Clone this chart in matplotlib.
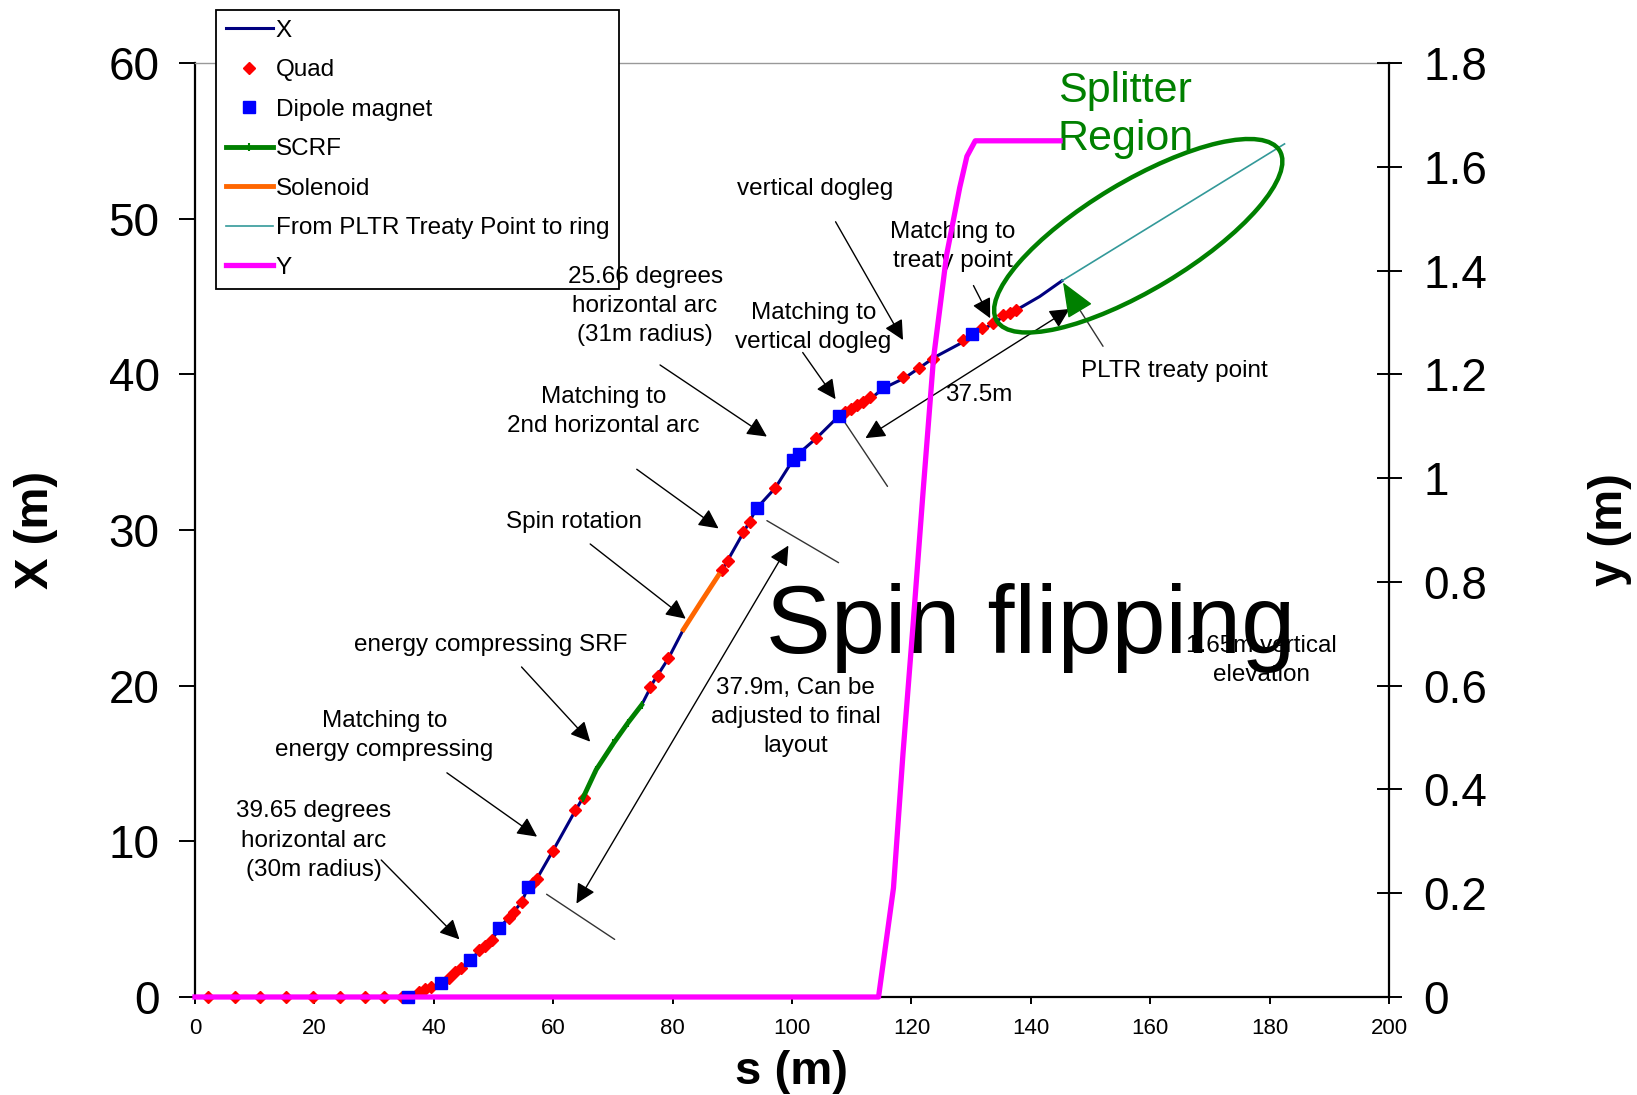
import matplotlib
matplotlib.use('Agg')
import matplotlib.pyplot as plt
import numpy as np
from matplotlib.patches import Ellipse
from matplotlib.transforms import ScaledTranslation

plt.rcParams['font.family'] = ['Liberation Sans', 'DejaVu Sans']

# horizontal position X (m) along path length s (m)
s_x = [0, 35.5, 37.6, 39.9, 41.2, 43.2, 44.9, 46.1, 48.2, 49.6, 51.0, 53.3, 54.7, 55.8,
       57.1, 60.0, 63.6, 65.0, 67.2, 70.1, 72.5, 74.8, 76.8, 79.3, 81.8, 84.8, 87.7, 88.8,
       92.4, 94.1, 97.2, 100.5, 104.1, 107.8, 110.8, 113.4, 115.3, 118.8, 121.3, 123.9,
       128.3, 130.4, 133.5, 136.1, 137.9, 141.5, 145.2]
x_x = [0, 0, 0.37, 0.65, 0.9, 1.44, 1.98, 2.37, 3.17, 3.6, 4.42, 5.43, 6.08, 7.05,
       7.48, 9.42, 11.9, 12.8, 14.6, 16.3, 17.6, 18.75, 20.25, 21.75, 23.6, 25.4, 27.1, 27.75,
       30.2, 31.4, 32.7, 34.7, 35.9, 37.3, 37.9, 38.5, 39.1, 39.75, 40.4, 41.1,
       42.0, 42.6, 43.2, 43.9, 44.2, 45.0, 46.0]

# quadrupoles
s_quad = [2.2, 6.7, 10.9, 15.3, 19.8, 24.3, 28.4, 31.6, 34.6,
          37.5, 38.6, 39.6, 42.6, 43.6, 44.5, 47.6, 48.5, 49.7, 52.6, 53.4, 54.8, 56.7, 57.3,
          60.0, 63.7, 65.1, 76.2, 77.6, 79.3, 88.3, 89.3, 91.8, 93.0, 97.2, 104.1,
          108.9, 109.9, 110.9, 111.9, 113.1, 118.6, 121.2, 123.7, 128.7, 131.8, 133.7,
          135.4, 136.5, 137.6]
x_quad = [0, 0, 0, 0, 0, 0, 0, 0, 0,
          0.35, 0.5, 0.62, 1.25, 1.6, 1.85, 3.0, 3.25, 3.65, 5.1, 5.45, 6.1, 7.35, 7.6,
          9.4, 12.0, 12.8, 19.9, 20.6, 21.75, 27.45, 28.0, 29.9, 30.5, 32.7, 35.9,
          37.6, 37.8, 38.0, 38.2, 38.55, 39.8, 40.4, 41.0, 42.2, 42.95, 43.3,
          43.8, 43.95, 44.1]

# dipole magnets
s_dip = [35.6, 41.2, 46.1, 51.0, 55.8, 94.1, 100.2, 101.1, 107.8, 115.3, 130.1]
x_dip = [0, 0.9, 2.37, 4.42, 7.05, 31.4, 34.5, 34.9, 37.3, 39.2, 42.6]

# SCRF, solenoid, PLTR -> ring sections
s_scrf = [65.0, 67.2, 70.1, 72.5, 74.8]
x_scrf = [12.8, 14.6, 16.3, 17.6, 18.75]
s_sol = [81.8, 84.8, 87.7]
x_sol = [23.6, 25.4, 27.1]
s_pltr = [145.2, 182.5]
x_pltr = [46.0, 54.8]

# vertical position y (m)
s_y = [0, 114.5, 117.0, 118.6, 120.3, 122.0, 123.7, 125.9, 128.1, 129.3, 130.7, 144.9]
y_y = [0, 0, 0.21, 0.47, 0.72, 0.98, 1.23, 1.43, 1.56, 1.62, 1.65, 1.65]

fig = plt.figure(figsize=(16.37, 10.95), dpi=100)
ax = fig.add_axes([0.1191, 0.0895, 0.7294, 0.853])
ax2 = ax.twinx()

l_x, = ax.plot(s_x, x_x, color='#000080', lw=2.2, label='X', clip_on=False, zorder=3)
l_q, = ax.plot(s_quad, x_quad, 'D', color='red', ms=6.5, ls='none', label='Quad',
               clip_on=False, zorder=4)
l_d, = ax.plot(s_dip, x_dip, 's', color='blue', ms=8, ls='none', label='Dipole magnet',
               clip_on=False, zorder=5)
l_rf, = ax.plot(s_scrf, x_scrf, color='green', lw=3.5, marker='|', ms=6, mew=1.5,
                label='SCRF', zorder=4)
l_so, = ax.plot(s_sol, x_sol, color='#FF6600', lw=3.5, label='Solenoid', zorder=4)
l_pl, = ax.plot(s_pltr, x_pltr, color='#339999', lw=1.2, label='From PLTR Treaty Point to ring',
                zorder=3)
l_y, = ax2.plot(s_y, y_y, color='#FF00FF', lw=3.8, label='Y', clip_on=False)

ax.set_xlim(0, 200)
ax.set_ylim(0, 60)
ax2.set_ylim(0, 1.8)
ax.set_xticks(np.arange(0, 201, 20))
ax.set_yticks(np.arange(0, 61, 10))
ax2.set_yticks(np.arange(0, 1.81, 0.2))
ax2.yaxis.set_major_formatter(plt.FuncFormatter(lambda v, p: '%g' % round(v, 1)))

ax.tick_params(axis='x', direction='out', length=5, width=1.4, labelsize=16, pad=10)
ax.tick_params(axis='y', direction='out', length=11.5, width=1.4, labelsize=33, pad=14)
ax2.tick_params(axis='y', direction='inout', length=18, width=1.4, labelsize=33, pad=16)

for sp in ['left', 'bottom']:
    ax.spines[sp].set_linewidth(1.6)
ax.spines['right'].set_visible(False)
ax.spines['top'].set_color('#999999')
ax.spines['top'].set_linewidth(1)
ax2.spines['right'].set_linewidth(1.6)
for sp in ['left', 'bottom', 'top']:
    ax2.spines[sp].set_visible(False)

ax.set_xlabel('s (m)', fontsize=34, fontweight='bold')
ax.set_ylabel('X (m)', fontsize=34, fontweight='bold')
ax2.set_ylabel('y (m)', fontsize=34, fontweight='bold')
ax.xaxis.set_label_coords(0.5, -0.057)
ax.yaxis.set_label_coords(-0.115, 0.5)
ax2.yaxis.set_label_coords(1.167, 0.5)

# annotations
txt = dict(fontsize=17.5, ha='center', va='center', linespacing=1.42, zorder=6)
ax.text(19.9, 10.05, '39.65 degrees\nhorizontal arc\n(30m radius)', **txt)
ax.text(31.7, 16.8, 'Matching to\nenergy compressing', **txt)
ax.text(49.5, 22.6, 'energy compressing SRF', **txt)
ax.text(63.5, 30.5, 'Spin rotation', **txt)
ax.text(68.4, 37.6, 'Matching to\n2nd horizontal arc', **txt)
# drawn on ax2 so it shows over the legend box, as in the original
ax2.text(75.4, 44.4, '25.66 degrees\nhorizontal arc\n(31m radius)', transform=ax.transData,
         **dict(txt, zorder=8))
ax.text(103.6, 43.0, 'Matching to\nvertical dogleg', **txt)
ax.text(103.8, 51.9, 'vertical dogleg', **txt)
ax.text(126.9, 48.2, 'Matching to\ntreaty point', **txt)
ax.text(100.6, 18.0, '37.9m, Can be\nadjusted to final\nlayout', **txt)
ax.text(178.7, 21.6, '1.65m vertical\nelevation', **txt)
ax.text(148.4, 40.2, 'PLTR treaty point', fontsize=17.5, ha='left', va='center')
ax.text(125.6, 38.7, '37.5m', fontsize=17.5, ha='left', va='center')
ax.text(140.0, 22.1, 'Spin flipping', fontsize=70, ha='center', va='baseline', zorder=7)
ax.text(144.5, 59.5, 'Splitter\nRegion', fontsize=31, color='green', ha='left', va='top',
        linespacing=1.26, zorder=7)

head = dict(arrowstyle='-|>,head_length=0.6,head_width=0.3', color='black', lw=1,
            shrinkA=0, shrinkB=0, mutation_scale=20)
dbl = dict(head, arrowstyle='<|-|>,head_length=0.6,head_width=0.3')
bar = dict(arrowstyle='-', color='#333333', lw=1, shrinkA=0, shrinkB=0)

arrows = [((31.2, 8.8), (44.3, 3.7)), ((42.2, 14.4), (57.3, 10.3)), ((54.7, 21.2), (66.2, 16.4)),
          ((66.2, 29.1), (82.2, 24.3)), ((74.0, 33.9), (87.7, 30.1)), ((77.9, 40.6), (95.8, 36.0)),
          ((101.8, 41.4), (107.3, 38.4)), ((107.3, 49.8), (118.6, 42.2)),
          ((130.4, 45.7), (133.2, 43.6))]
for a, b in arrows:
    ax.annotate('', xy=b, xytext=a, arrowprops=head)

ax.annotate('', xy=(99.4, 29.0), xytext=(63.9, 6.0), arrowprops=dbl)
ax.annotate('', xy=(146.5, 44.2), xytext=(112.3, 35.9), arrowprops=dbl)
for a, b in [((58.9, 6.6), (70.3, 3.7)), ((95.8, 30.6), (107.8, 27.9)), ((108.7, 37.0), (116.0, 32.8))]:
    ax.annotate('', xy=b, xytext=a, arrowprops=bar)

# PLTR treaty point pointer: black stem, green head
ax.annotate('', xy=(147.6, 44.5), xytext=(152.1, 41.8), arrowprops=bar)
ax.annotate('', xy=(145.4, 45.9), xytext=(147.9, 44.3),
            arrowprops=dict(arrowstyle='-|>,head_length=1.1,head_width=0.45', color='green',
                            lw=1, shrinkA=0, shrinkB=0, mutation_scale=20))

# splitter region ellipse (size in inches, centred in data coords)
ell = Ellipse((0, 0), width=3.30, height=1.08, angle=31, fill=False, edgecolor='green', lw=3.2,
              transform=fig.dpi_scale_trans + ScaledTranslation(158.0, 48.9, ax.transData),
              zorder=6)
ax.add_patch(ell)

leg = ax2.legend(handles=[l_x, l_q, l_d, l_rf, l_so, l_pl, l_y], loc='upper left',
                 bbox_to_anchor=(216 / 1637, 1 - 10 / 1095), bbox_transform=fig.transFigure,
                 fontsize=17.5, frameon=True, fancybox=False, framealpha=1, edgecolor='black',
                 borderaxespad=0, borderpad=0.4, labelspacing=0.72, handlelength=1.95,
                 handletextpad=0.1, numpoints=1)
leg.get_frame().set_linewidth(1.3)
leg.set_zorder(5)

fig.savefig('out.png', dpi=100)
